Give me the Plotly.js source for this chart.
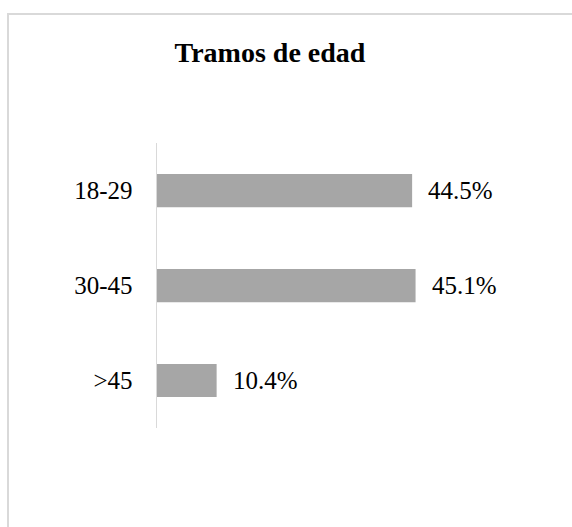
<!DOCTYPE html>
<html>
<head>
<meta charset="utf-8">
<script src="https://cdn.plot.ly/plotly-3.0.1.min.js"></script>
<style>
  html, body { margin: 0; padding: 0; background: #fff; }
  #frame { position: absolute; left: 7px; top: 13px; width: 600px; height: 560px;
           border-left: 2px solid #d9d9d9; border-top: 2px solid #d9d9d9; }
  #chart { position: absolute; left: 0; top: 0; width: 572px; height: 527px; }
</style>
</head>
<body>
<div id="frame"></div>
<div id="chart"></div>
<script>
const categories = ["18-29", "30-45", ">45"];
const values = [44.5, 45.1, 10.4];
const valueLabels = ["44.5%", "45.1%", "10.4%"];
const chartTitle = "Tramos de edad";

const serif = "Liberation Serif, Times New Roman, serif";

const trace = {
  type: "bar",
  orientation: "h",
  x: values,
  y: categories,
  marker: { color: "#a6a6a6" },
  hoverinfo: "skip"
};

const annotations = values.map((v, i) => ({
  x: v, y: categories[i], xref: "x", yref: "y",
  text: valueLabels[i], showarrow: false,
  xanchor: "left", yanchor: "middle", xshift: 14,
  font: { family: serif, size: 25, color: "#000" }
}));

const layout = {
  width: 572, height: 527,
  margin: { l: 157, r: 71, t: 143, b: 99 },
  paper_bgcolor: "rgba(0,0,0,0)",
  plot_bgcolor: "rgba(0,0,0,0)",
  title: {
    text: "<b>" + chartTitle + "</b>",
    font: { family: serif, size: 28, color: "#000" },
    xref: "container", yref: "container",
    x: 270 / 572, xanchor: "center",
    y: 1 - 52 / 527, yanchor: "middle"
  },
  bargap: 0.65,
  xaxis: {
    range: [0, 60], showgrid: false, zeroline: false,
    showticklabels: false, showline: false, ticks: ""
  },
  yaxis: {
    autorange: "reversed", showgrid: false, zeroline: false,
    showline: true, linecolor: "#d9d9d9", linewidth: 1.5,
    ticks: "", ticklabelstandoff: 18,
    tickfont: { family: serif, size: 25, color: "#000" }
  },
  annotations: annotations,
  showlegend: false
};

Plotly.newPlot("chart", [trace], layout, { displayModeBar: false, staticPlot: true });
</script>
</body>
</html>
